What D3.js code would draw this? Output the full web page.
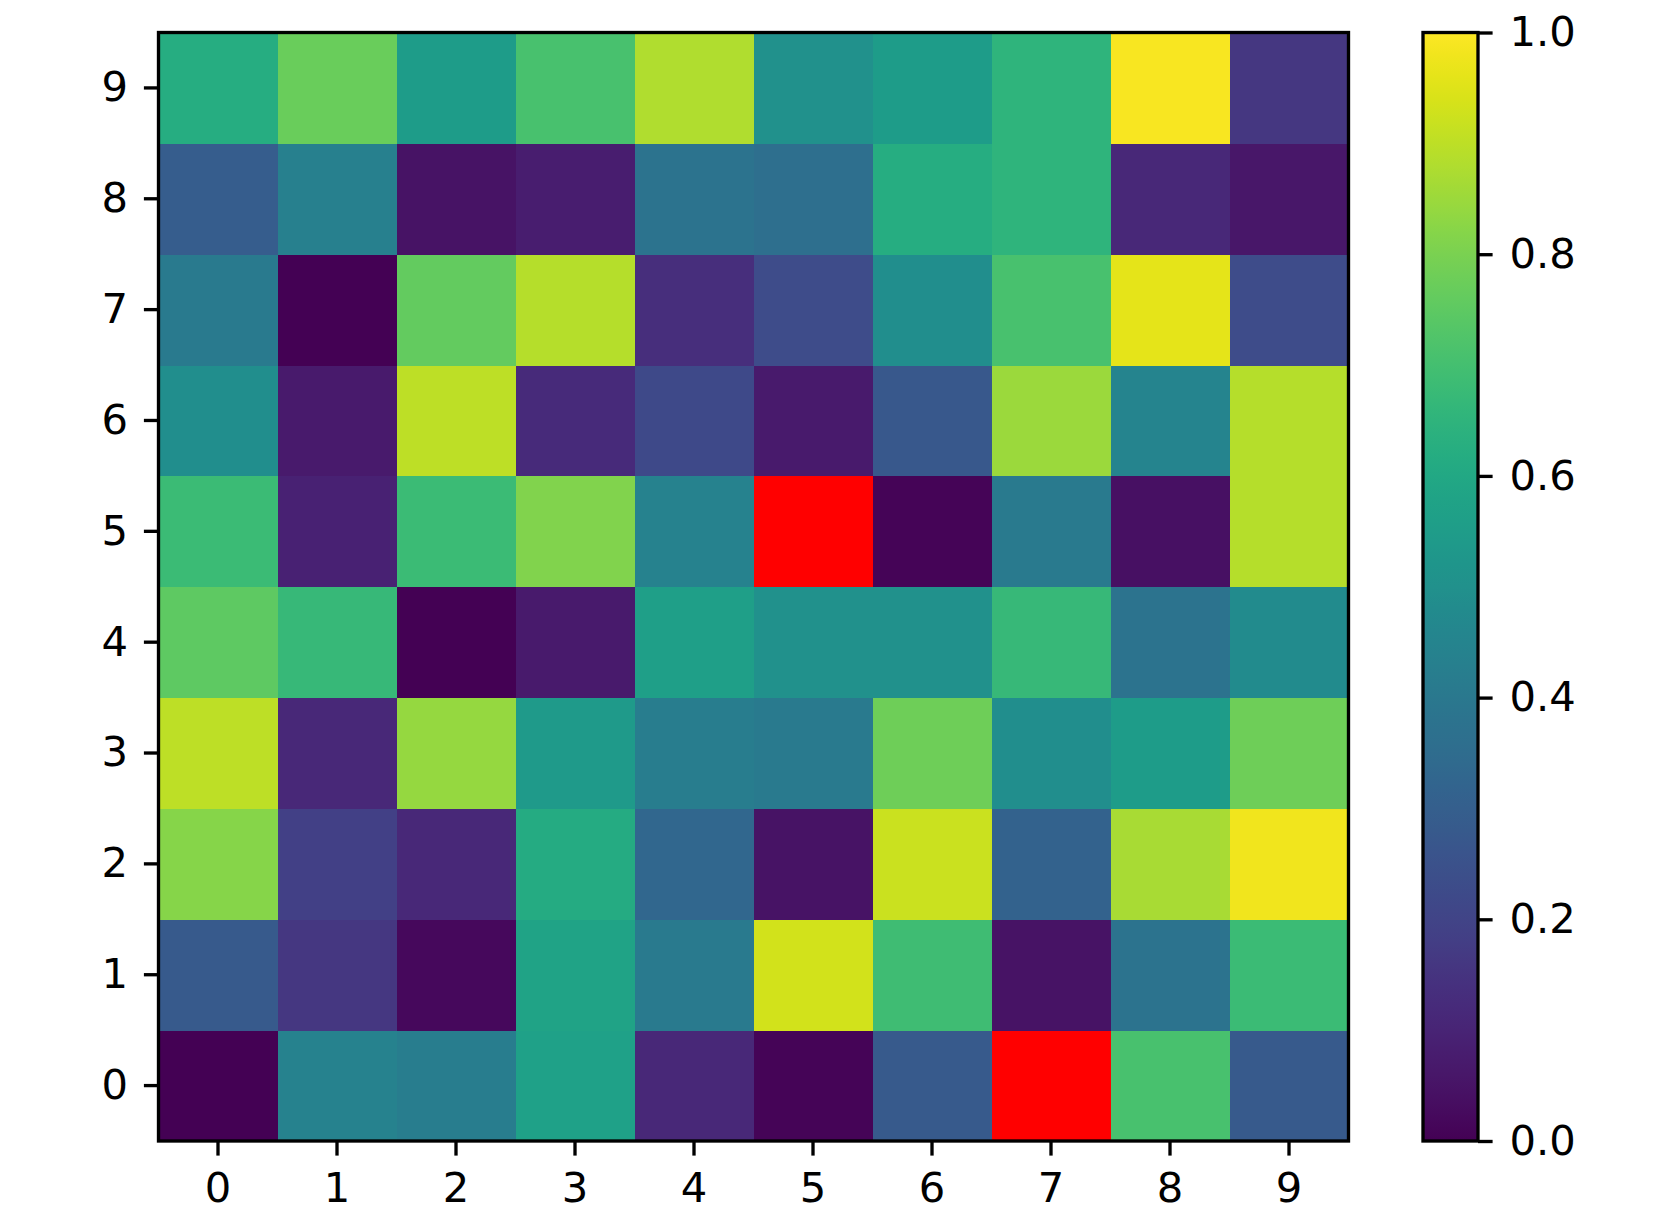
<!DOCTYPE html>
<html>
<head>
<meta charset="utf-8">
<script src="https://cdn.jsdelivr.net/npm/d3@7"></script>
<style>
  html, body { margin: 0; padding: 0; background: #fff; }
  svg { display: block; }
  text { font-family: "DejaVu Sans", sans-serif; }
</style>
</head>
<body>
<svg id="chart" width="1677" height="1218"></svg>
<script>
// ---- data ----
const xLabels = ["0","1","2","3","4","5","6","7","8","9"];
const yLabels = ["0","1","2","3","4","5","6","7","8","9"];
const colorbarTicks = [0.0, 0.2, 0.4, 0.6, 0.8, 1.0];
// one array per row (row index = y label); null = missing value (drawn red)
const row0 = [0.00, 0.44, 0.42, 0.57, 0.11, 0.01, 0.28, null, 0.71, 0.28];
const row1 = [0.28, 0.16, 0.02, 0.58, 0.41, 0.93, 0.69, 0.05, 0.38, 0.68];
const row2 = [0.82, 0.19, 0.11, 0.61, 0.33, 0.05, 0.92, 0.31, 0.87, 0.98];
const row3 = [0.90, 0.11, 0.84, 0.54, 0.42, 0.41, 0.78, 0.49, 0.55, 0.78];
const row4 = [0.75, 0.67, 0.00, 0.07, 0.56, 0.50, 0.50, 0.67, 0.38, 0.48];
const row5 = [0.68, 0.09, 0.68, 0.81, 0.44, null, 0.01, 0.41, 0.04, 0.89];
const row6 = [0.49, 0.07, 0.90, 0.12, 0.22, 0.07, 0.27, 0.85, 0.45, 0.89];
const row7 = [0.41, 0.00, 0.76, 0.89, 0.13, 0.23, 0.49, 0.71, 0.96, 0.23];
const row8 = [0.29, 0.43, 0.05, 0.08, 0.38, 0.36, 0.62, 0.65, 0.11, 0.06];
const row9 = [0.62, 0.77, 0.55, 0.71, 0.88, 0.50, 0.55, 0.65, 0.99, 0.16];
const rows = [row0, row1, row2, row3, row4, row5, row6, row7, row8, row9];

(function () {
const cells = [];
rows.forEach((r, ri) => r.forEach((v, ci) => cells.push({ x: xLabels[ci], y: yLabels[ri], v })));

// ---- layout ----
const svg = d3.select("#chart");
const pL = 158.5, pR = 1348.5, pT = 32.5, pB = 1141;
const cbL = 1423, cbR = 1478;
const fontSize = 41.7, tickLen = 14.6, lw = 3.33;

const x = d3.scaleBand().domain(xLabels).range([pL, pR]).padding(0);
const y = d3.scaleBand().domain(yLabels).range([pB, pT]).padding(0);
const color = d3.scaleSequential(d3.interpolateViridis).domain([0, 1]);

// cells
svg.append("g").selectAll("rect").data(cells).join("rect")
  .attr("x", d => x(d.x))
  .attr("y", d => y(d.y))
  .attr("width", x.bandwidth() + 0.5)
  .attr("height", y.bandwidth() + 0.5)
  .attr("fill", d => d.v === null ? "#ff0000" : color(d.v))
  .attr("shape-rendering", "crispEdges");

// frame
svg.append("rect")
  .attr("x", pL).attr("y", pT)
  .attr("width", pR - pL).attr("height", pB - pT)
  .attr("fill", "none").attr("stroke", "#000").attr("stroke-width", lw);

function styleAxis(g) {
  g.select(".domain").remove();
  g.selectAll(".tick line").attr("stroke", "#000").attr("stroke-width", lw);
  g.selectAll(".tick text").attr("fill", "#000").attr("font-size", fontSize)
    .attr("font-family", "DejaVu Sans, sans-serif");
}

// x axis
svg.append("g")
  .attr("transform", `translate(0,${pB})`)
  .call(d3.axisBottom(x).tickSize(tickLen).tickPadding(17))
  .call(styleAxis);

// y axis
svg.append("g")
  .attr("transform", `translate(${pL},0)`)
  .call(d3.axisLeft(y).tickSize(tickLen).tickPadding(16))
  .call(styleAxis);

// colorbar
const cbScale = d3.scaleLinear().domain([0, 1]).range([pB, pT]);
const defs = svg.append("defs");
const grad = defs.append("linearGradient").attr("id", "cbgrad")
  .attr("x1", "0").attr("y1", "1").attr("x2", "0").attr("y2", "0");
d3.range(0, 1.0001, 0.02).forEach(t => {
  grad.append("stop").attr("offset", t).attr("stop-color", color(t));
});
svg.append("rect")
  .attr("x", cbL).attr("y", pT)
  .attr("width", cbR - cbL).attr("height", pB - pT)
  .attr("fill", "url(#cbgrad)")
  .attr("stroke", "#000").attr("stroke-width", lw);

svg.append("g")
  .attr("transform", `translate(${cbR},0)`)
  .call(d3.axisRight(cbScale).tickValues(colorbarTicks).tickFormat(d3.format(".1f")).tickSize(tickLen).tickPadding(17))
  .call(styleAxis);
})();
</script>
</body>
</html>
